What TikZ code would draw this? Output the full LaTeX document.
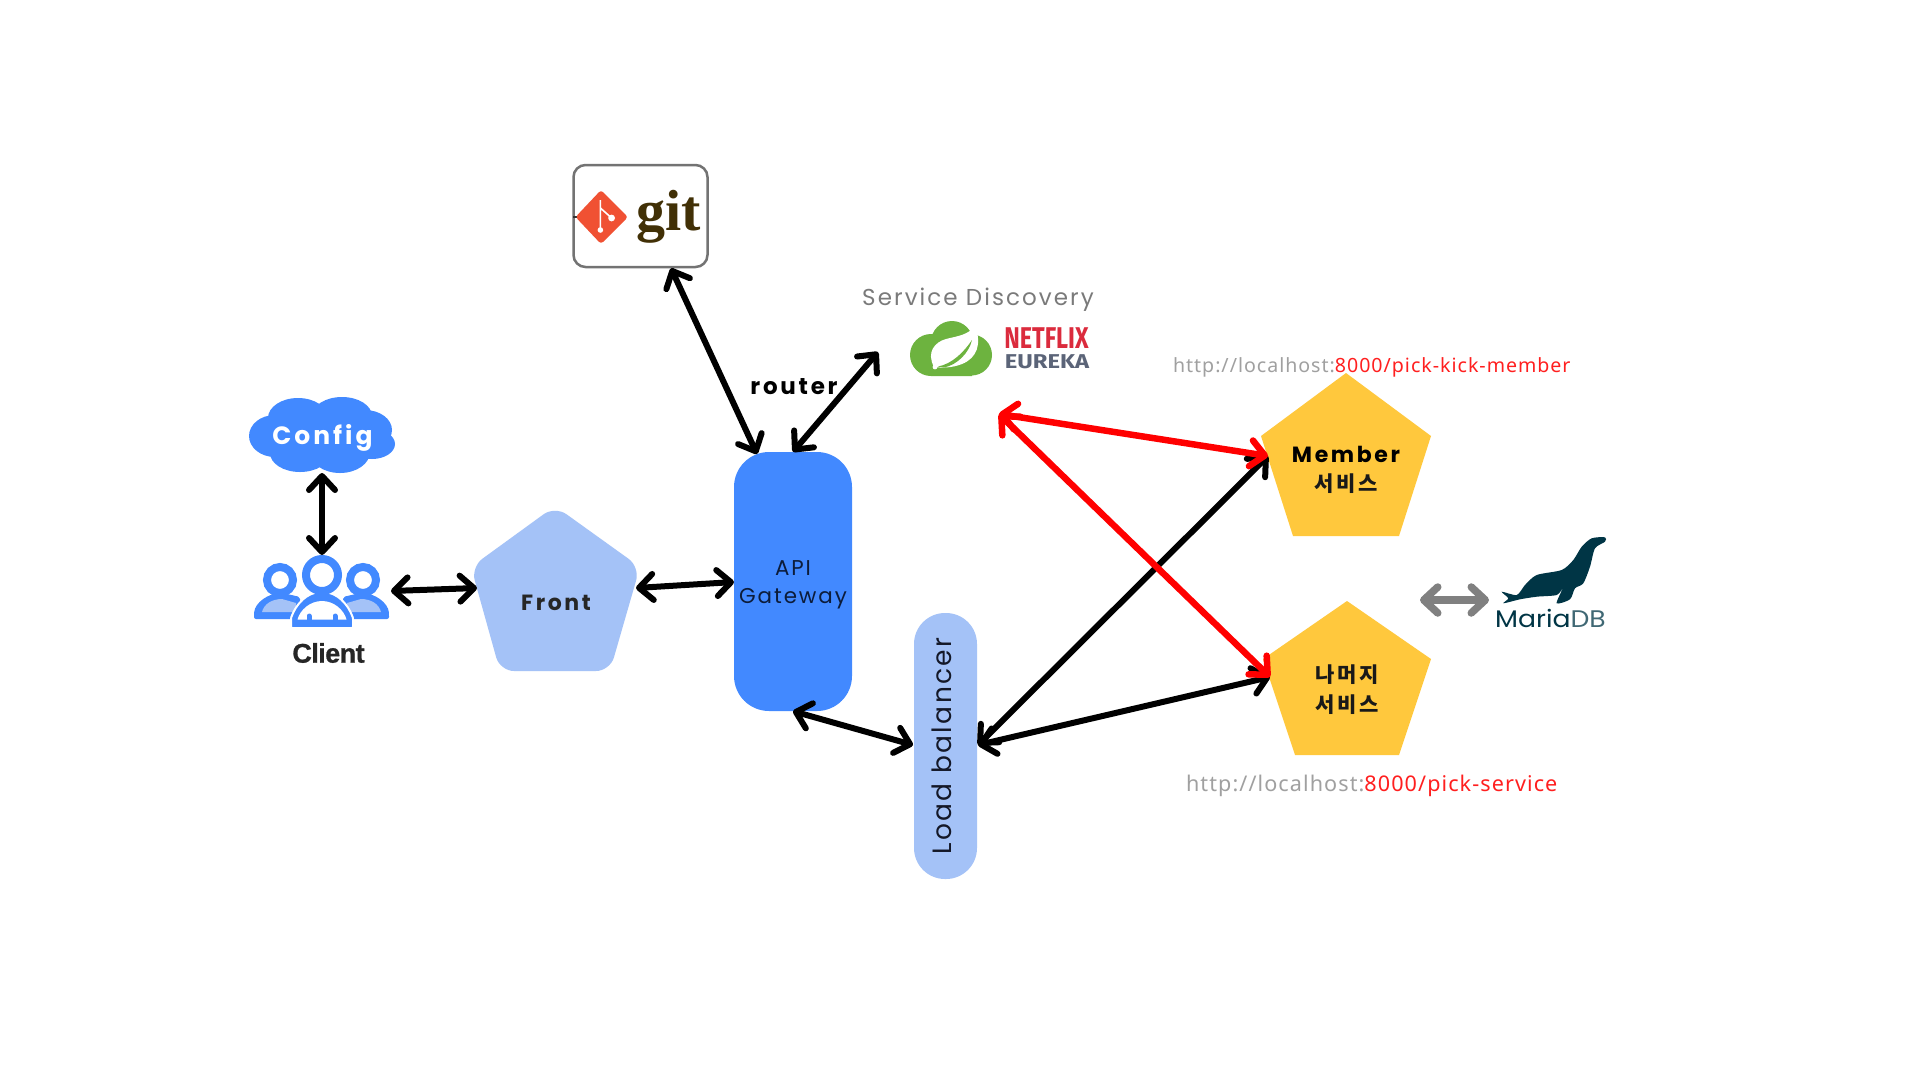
\documentclass[tikz,border=0pt]{standalone}
\usepackage{fontspec}
\usetikzlibrary{arrows.meta}
\setmainfont{Poppins}
\newfontfamily\popr[LetterSpace=9]{Poppins}
\newfontfamily\popb[LetterSpace=12,BoldFont={Poppins Bold}]{Poppins}
\newfontfamily\popm{Poppins}
\newfontfamily\krb[LetterSpace=14]{Noto Sans CJK KR}
\newfontfamily\urlf[LetterSpace=5]{Noto Sans}
\newfontfamily\cli[UprightFont={* Bold},FakeBold=0.8,LetterSpace=-2]{Liberation Sans}
\newfontfamily\gitf{Liberation Serif}
\newfontfamily\fira{Fira Sans}
\definecolor{bluemain}{HTML}{4289FF}
\definecolor{bluelite}{HTML}{A4C2F7}
\definecolor{gold}{HTML}{FFC83D}
\definecolor{urlgrey}{HTML}{A0A0A0}
\definecolor{urlred}{HTML}{FF1F1F}
\definecolor{seal}{HTML}{003545}
\definecolor{springg}{HTML}{6DB33F}
\tikzset{
  link/.style={line width=6pt,{Straight Barb[round,length=14pt,width=26pt]}-{Straight Barb[round,length=14pt,width=26pt]}},
  blacklink/.style={link,draw=black},
  redlink/.style={link,draw=red,line width=6.5pt},
  greylink/.style={link,draw=black!50,line width=7.5pt},
  label/.style={inner sep=0pt,outer sep=0pt,align=center},
  urllabel/.style={label,text=urlgrey,anchor=base west},
}
\begin{document}
\begin{tikzpicture}[x=1pt,y=-1pt]
\useasboundingbox (0,0) rectangle (1920,1080);
\fill[white] (0,0) rectangle (1920,1080);

% git box
\node[draw=black!55,line width=2.5pt,fill=white,rounded corners=12pt,minimum width=134pt,minimum height=102pt,inner sep=0pt] (git) at (640.5,216) {};
\draw[black!80,line width=1.5pt] (573,217) -- (578,217);
\fill[rounded corners=3pt,fill={rgb,255:red,240;green,81;blue,51}] (601,190) -- (628,217) -- (601,244) -- (575.5,217) -- cycle;
\draw[white,line width=1.6pt] (600.4,200) -- (600.4,230) (600.4,208) -- (611.6,218);
\fill[white] (600.4,230) circle (2.8pt) (611.6,218) circle (3.4pt);
\node[label,font=\gitf\bfseries\fontsize{58}{60}\selectfont,text={rgb,255:red,65;green,48;blue,6},anchor=base] (gittext) at (669,230) {git};

% spring / eureka
\node[label,font=\popr\fontsize{23}{28}\selectfont,text=black!52] (sd) at (978,300) {Service Discovery};
\fill[springg] (931,355) circle (21pt) (952,342) circle (21pt) (971.5,355) circle (20.5pt) (931,355) rectangle (972,376) (925,360) rectangle (978,365);
\fill[springg] (931,376) -- (971,376) -- (971,362) -- (931,362) -- cycle;
\fill[white] (934,367) .. controls (926,352) and (935,342) .. (946,339) .. controls (958,336) and (968,335) .. (975,326) .. controls (982,344) and (977,358) .. (962,364) .. controls (952,368) and (942,368) .. (934,367) -- cycle;
\fill[springg] (938,366.5) .. controls (952,364) and (964,352) .. (972,340) .. controls (969,353) and (957,365) .. (944,367.5) -- cycle;
\fill[white] (935,367) circle (2.4pt);
\node[label,font=\fira\bfseries\fontsize{30}{30}\selectfont,text={rgb,255:red,219;green,43;blue,61},xscale=0.78,anchor=center] (netflix) at (1046.5,338) {NETFLIX};
\node[label,font=\fira\bfseries\fontsize{20}{20}\selectfont,text={rgb,255:red,91;green,100;blue,120},xscale=1.19,anchor=center] (eureka) at (1047,362) {EUREKA};
\coordinate (eurekaEnd) at (878,352);
\coordinate (eurekaRed) at (999,414);

\node[label,font=\popb\bfseries\fontsize{23}{26}\selectfont,text=black] (router) at (794,387) {router};

% config cloud
\fill[bluemain] (275,436) ellipse (26pt and 21pt) (298,418) ellipse (30pt and 20pt) (342,416) ellipse (30pt and 19pt) (365,430) ellipse (27pt and 20pt) (372,444) ellipse (23pt and 15pt) (300,453) ellipse (30pt and 19pt) (340,452) ellipse (30pt and 21pt) (285,420) rectangle (360,460);
\node[label,font=\popb\bfseries\fontsize{25}{30}\selectfont,text=white] (config) at (322.5,438) {Config};
\coordinate (configS) at (322,473);

% client icon
\node[label,font=\cli\fontsize{27}{30}\selectfont,text=black!85] (client) at (328.5,653) {Client};
\coordinate (clientN) at (322,555);
\coordinate (clientE) at (391,591);
\draw[bluemain,line width=8pt,fill=white] (280,580) circle (13pt) (363,580) circle (13pt);
\fill[bluemain,rounded corners=2pt] (254,619) -- (254,614) .. controls (255,603) and (268,593) .. (283,593) -- (300,597) -- (300,619) -- cycle;
\fill[bluelite] (262,612) .. controls (264,604) and (272,599) .. (282,599) -- (296,603) -- (296,612) -- cycle;
\fill[bluemain,rounded corners=2pt] (389,619) -- (389,614) .. controls (388,603) and (375,593) .. (360,593) -- (343,597) -- (343,619) -- cycle;
\fill[bluelite] (381,612) .. controls (379,604) and (371,599) .. (361,599) -- (347,603) -- (347,612) -- cycle;
\fill[bluemain,draw=white,line width=2pt,rounded corners=1pt] (291,628) -- (291,618) .. controls (296,604) and (307,592) .. (322,592) .. controls (337,592) and (348,604) .. (353,618) -- (353,628) -- cycle;
\fill[white] (297.5,619.5) .. controls (300,610) and (310,601) .. (322,601) .. controls (334,601) and (344,610) .. (346.5,619.5) -- cycle;
\draw[bluemain,line width=5pt,line cap=round] (309,620) -- (309,616) (335,620) -- (335,616);
\draw[bluemain,line width=8pt,fill=white] (322,575) circle (16pt);

% front
\fill[bluelite,rounded corners=14pt] (555,506) -- (471,567) -- (500,671) -- (610,671) -- (640,567) -- cycle;
\node[label,font=\popb\bfseries\fontsize{22}{26}\selectfont,text=black!85] (front) at (556,603) {Front};
\coordinate (frontW) at (477,588);
\coordinate (frontE) at (636,588);

% API gateway
\node[fill=bluemain,rounded corners=35pt,minimum width=118pt,minimum height=259pt,inner sep=0pt,align=center,font=\popr\fontsize{21.4}{28}\selectfont,text={rgb,255:red,12;green,28;blue,58}] (api) at (793,581.5) {\raisebox{-2.5pt}[16pt][5pt]{API}\\\raisebox{-2.5pt}[16pt][5pt]{Gateway}};
\coordinate (apiGit) at (757,454);
\coordinate (apiW) at (734,582);

% load balancer
\node[fill=bluelite,rounded corners=31pt,minimum width=266pt,minimum height=63pt,inner sep=0pt,rotate=90,font=\popr\fontsize{26.5}{30}\selectfont,text={rgb,255:red,20;green,24;blue,40}] (lb) at (945.5,746) {\raisebox{1.5pt}[19pt][5pt]{Load balancer}};
\coordinate (lbW) at (913,745);
\coordinate (lbE) at (978,745);

% services
\fill[gold] (1346,373) -- (1261,436) -- (1293,536) -- (1399,536) -- (1431,436) -- cycle;
\fill[gold] (1347,601) -- (1263,659) -- (1295,755) -- (1399,755) -- (1431,659) -- cycle;
\node[label,font=\popb\bfseries\fontsize{22}{26}\selectfont,text=black] (member) at (1346,454) {Member};
\node[label,font=\krb\bfseries\fontsize{21}{24}\selectfont,text=black!90] (membersvc) at (1346,484) {서비스};
\node[label,font=\krb\bfseries\fontsize{21}{30}\selectfont,text=black!90] (rest) at (1347,690) {나머지\\서비스};
\coordinate (memberW) at (1268,456);
\coordinate (restW) at (1270,677);

% urls
\node[urllabel,font=\urlf\fontsize{19.6}{23}\selectfont] (url1) at (1173,372) {http://localhost:\textcolor{urlred}{8000/pick-kick-member}};
\node[urllabel,font=\urlf\fontsize{21.6}{25}\selectfont] (url2) at (1186,791) {http://localhost:\textcolor{urlred}{8000/pick-service}};

% mariadb
\fill[seal] plot[smooth cycle,tension=0.45] coordinates {(1605,537.3) (1591.7,538.3) (1581.7,546.7) (1573.3,560) (1561.7,570) (1536.7,575) (1525,585) (1516.7,595) (1501.7,591.7) (1508.3,598.3) (1503.3,603.3) (1520,599.3) (1536.7,596.7) (1556.7,595) (1562.7,588.3) (1556.7,603.3) (1570,599.3) (1575,588.3) (1583.3,583.3) (1590,566.7) (1595,548.3) (1605,541.7)};
\node[label,font=\popm\fontsize{24}{28}\selectfont,text=seal,xscale=1.11] (maria) at (1550.5,618) {Maria\textcolor{seal!75}{DB}};
\coordinate (mariaW) at (1489,600);
\coordinate (svcE) at (1420,600);

% connectors
\draw[blacklink] (configS) -- (clientN);
\draw[blacklink] (clientE) -- (frontW);
\draw[blacklink] (frontE) -- (apiW);
\draw[blacklink] (git.south -| 671,0) -- (apiGit);
\draw[blacklink] (eurekaEnd) -- (api.north);
\draw[blacklink] (api.south) -- (lbW);
\draw[blacklink] (lbE) -- (memberW);
\draw[blacklink] (lbE) -- (restW);
\draw[redlink] (eurekaRed) -- (memberW);
\draw[redlink] (eurekaRed) -- (restW);
\draw[greylink] (svcE) -- (mariaW);
\end{tikzpicture}
\end{document}
